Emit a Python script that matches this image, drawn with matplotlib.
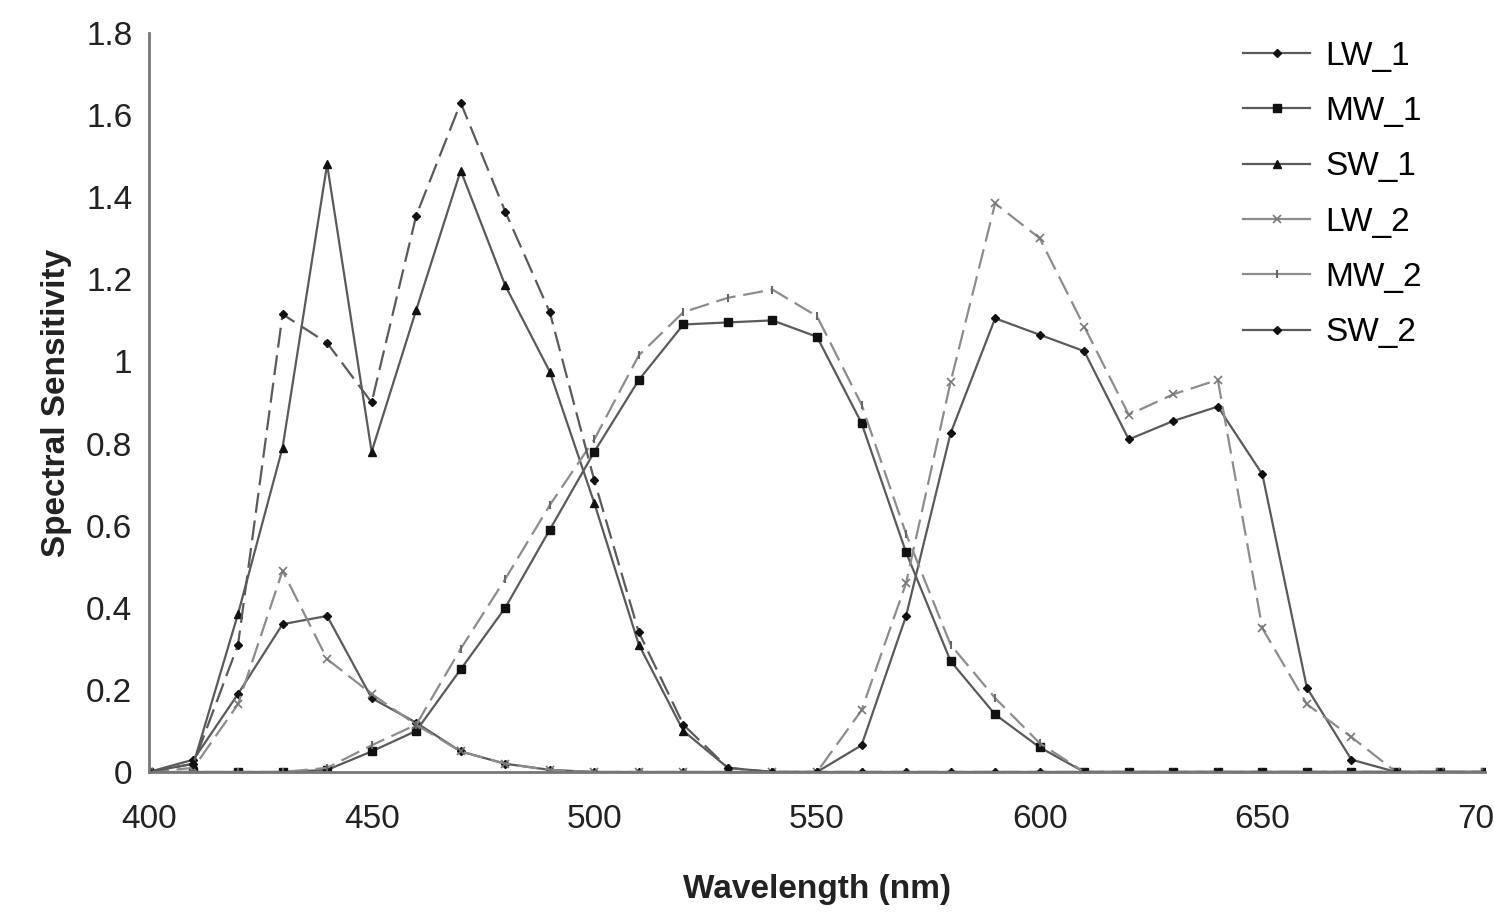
import matplotlib
matplotlib.use("Agg")
import matplotlib.pyplot as plt
from matplotlib.ticker import FuncFormatter

plt.rcParams['font.family'] = ['Liberation Sans', 'DejaVu Sans']

# wavelengths, 400..700 nm every 10 nm
wl = [400, 410, 420, 430, 440, 450, 460, 470, 480, 490,
      500, 510, 520, 530, 540, 550, 560, 570, 580, 590,
      600, 610, 620, 630, 640, 650, 660, 670, 680, 690, 700]

lw_1 = [0, 0.03, 0.19, 0.36, 0.38, 0.18, 0.12, 0.05, 0.02, 0.005,
        0, 0, 0, 0, 0, 0, 0.065, 0.38, 0.825, 1.105,
        1.065, 1.025, 0.81, 0.855, 0.89, 0.725, 0.205, 0.03, 0, 0, 0]
mw_1 = [0, 0, 0, 0, 0.005, 0.05, 0.10, 0.25, 0.40, 0.59,
        0.78, 0.955, 1.09, 1.095, 1.10, 1.06, 0.85, 0.535, 0.27, 0.14,
        0.06, 0, 0, 0, 0, 0, 0, 0, 0, 0, 0]
sw_1 = [0, 0.02, 0.385, 0.79, 1.48, 0.78, 1.125, 1.465, 1.185, 0.975,
        0.655, 0.31, 0.10, 0.01, 0, 0, 0, 0, 0, 0,
        0, 0, 0, 0, 0, 0, 0, 0, 0, 0, 0]
lw_2 = [0, 0.01, 0.165, 0.49, 0.275, 0.19, 0.115, 0.05, 0.02, 0.005,
        0, 0, 0, 0, 0, 0, 0.15, 0.46, 0.95, 1.385,
        1.30, 1.085, 0.87, 0.92, 0.955, 0.35, 0.165, 0.085, 0, 0, 0]
mw_2 = [0, 0, 0, 0, 0.01, 0.065, 0.115, 0.30, 0.47, 0.65,
        0.81, 1.015, 1.12, 1.155, 1.175, 1.11, 0.895, 0.58, 0.31, 0.18,
        0.07, 0, 0, 0, 0, 0, 0, 0, 0, 0, 0]
sw_2 = [0, 0.02, 0.31, 1.115, 1.045, 0.90, 1.355, 1.63, 1.365, 1.12,
        0.71, 0.34, 0.115, 0.01, 0, 0, 0, 0, 0, 0,
        0, 0, 0, 0, 0, 0, 0, 0, 0, 0, 0]

names = ["LW_1", "MW_1", "SW_1", "LW_2", "MW_2", "SW_2"]

fig = plt.figure(figsize=(14.94, 9.14), dpi=100)
ax = fig.add_axes([0.0997, 0.1554, 0.8943, 0.8085])

dark = '#5a5a5a'
light = '#8c8c8c'
dash = (9, 3.5)

ax.plot(wl, lw_1, color=dark, lw=1.6, marker='D', ms=4.5, mfc='#111111', mec='#111111', label=names[0])
ax.plot(wl, mw_1, color=dark, lw=1.6, marker='s', ms=5.5, mfc='#111111', mec='#111111', label=names[1])
ax.plot(wl, sw_1, color=dark, lw=1.6, marker='^', ms=6, mfc='#111111', mec='#111111', label=names[2])
ax.plot(wl, lw_2, color=light, lw=1.6, dashes=dash, marker='x', ms=6, mew=1.2, mec='#777777', label=names[3])
ax.plot(wl, mw_2, color=light, lw=1.6, dashes=dash, marker='|', ms=6, mew=1.5, mec='#666666', label=names[4])
ax.plot(wl, sw_2, color=dark, lw=1.6, dashes=dash, marker='D', ms=4.5, mfc='#111111', mec='#111111', label=names[5])

ax.set_xlim(400, 700)
ax.set_ylim(0, 1.8)
ax.set_xticks([400, 450, 500, 550, 600, 650, 700])
ax.set_yticks([0, 0.2, 0.4, 0.6, 0.8, 1.0, 1.2, 1.4, 1.6, 1.8])
ax.yaxis.set_major_formatter(FuncFormatter(lambda v, p: '%g' % round(v, 1)))
ax.tick_params(length=0, labelsize=24, colors='#222222', pad=12)
ax.tick_params(axis='x', pad=23)

for s in ['top', 'right']:
    ax.spines[s].set_visible(False)
for s in ['left', 'bottom']:
    ax.spines[s].set_color('#777777')
    ax.spines[s].set_linewidth(2)

ax.set_xlabel('Wavelength (nm)', fontsize=24, fontweight='bold', color='#222222', labelpad=28)
ax.set_ylabel('Spectral Sensitivity', fontsize=24, fontweight='bold', color='#222222', labelpad=10)

leg = ax.legend(loc='upper right', bbox_to_anchor=(0.975, 1.03), frameon=False,
                fontsize=24, handlelength=2.0, labelspacing=0.73, handletextpad=0.45)
for h in leg.get_lines():
    h.set_linestyle('-')

fig.savefig('out.png', dpi=100)
